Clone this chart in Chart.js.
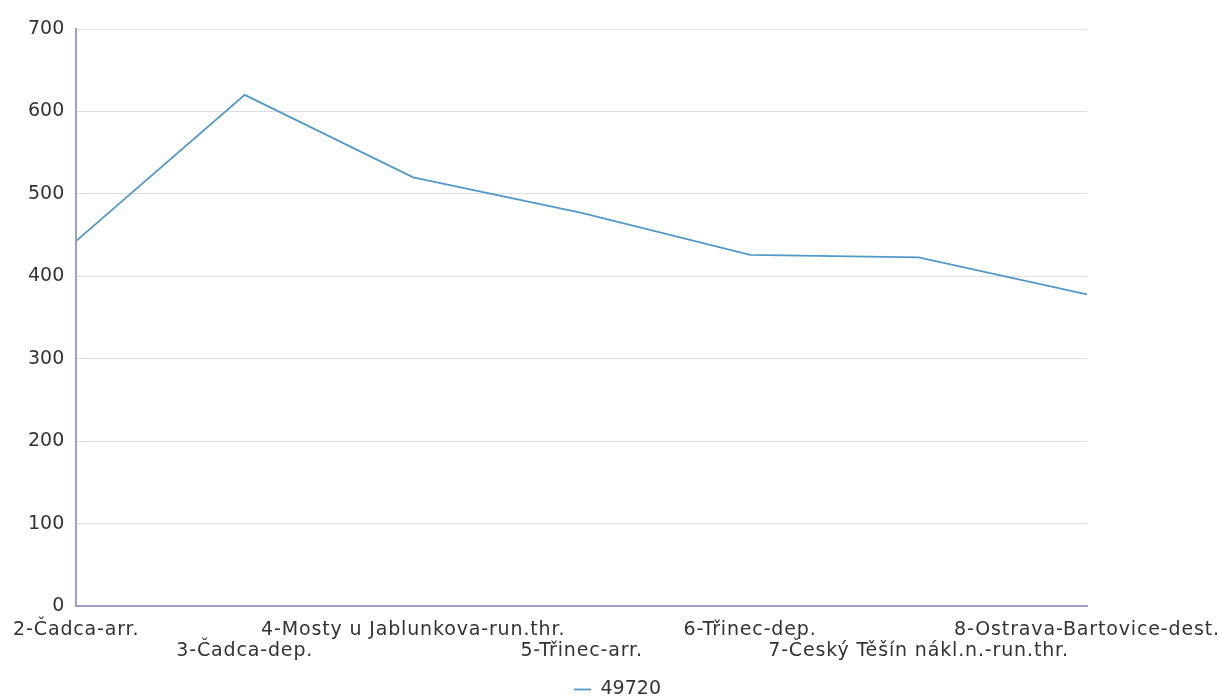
<!DOCTYPE html>
<html>
<head>
<meta charset="utf-8">
<script src="https://cdn.jsdelivr.net/npm/chart.js@4/dist/chart.umd.min.js"></script>
<style>
html,body{margin:0;padding:0;background:#fff;}
#wrap{width:1219px;height:697px;position:relative;}
</style>
</head>
<body>
<div id="wrap"><canvas id="c" width="1219" height="697"></canvas></div>
<script>
const categories = [
  "2-Čadca-arr.",
  "3-Čadca-dep.",
  "4-Mosty u Jablunkova-run.thr.",
  "5-Třinec-arr.",
  "6-Třinec-dep.",
  "7-Český Těšín nákl.n.-run.thr.",
  "8-Ostrava-Bartovice-dest."
];
const seriesName = "49720";
const seriesValues = [443, 620, 520, 477, 426, 423, 378];
const yTicks = [0, 100, 200, 300, 400, 500, 600, 700];

const labels = categories.map((c, i) => i % 2 === 0 ? [c, ""] : ["", c]);

Chart.defaults.font.family = "'DejaVu Sans', sans-serif";
Chart.defaults.font.size = 19;
Chart.defaults.color = "#333333";

function spacedLabels(scale) {
  if (scale._spaced) return;
  scale._spaced = true;
  const orig = scale.drawLabels.bind(scale);
  scale.drawLabels = function (ca) {
    const ctx = scale.ctx;
    const prev = ctx.letterSpacing;
    try { ctx.letterSpacing = "0.85px"; } catch (e) {}
    orig(ca);
    try { ctx.letterSpacing = prev || "0px"; } catch (e) {}
  };
}

new Chart(document.getElementById("c"), {
  type: "line",
  data: {
    labels: labels,
    datasets: [{
      label: seriesName,
      data: seriesValues,
      borderColor: "#5298c9",
      backgroundColor: "#5298c9",
      borderWidth: 1.8,
      pointRadius: 0,
      pointHoverRadius: 0,
      tension: 0,
      fill: false
    }]
  },
  options: {
    responsive: false,
    animation: false,
    layout: { padding: { left: 16, right: 0, top: 29, bottom: -12 } },
    plugins: {
      legend: {
        position: "bottom",
        labels: {
          usePointStyle: true,
          pointStyle: "line",
          pointStyleWidth: 17,
          boxWidth: 17,
          font: { size: 19, lineHeight: 1.0 },
          padding: 0
        }
      },
      tooltip: { enabled: false }
    },
    scales: {
      x: {
        offset: false,
        grid: { display: false, drawTicks: false },
        border: { display: true, color: "#9e9ec6", width: 2 },
        ticks: {
          autoSkip: false,
          maxRotation: 0,
          minRotation: 0,
          padding: 13.5,
          font: { size: 19, lineHeight: 1.1 }
        },
        afterFit: (scale) => { scale.height = 74; scale.paddingRight = 132; },
        afterUpdate: spacedLabels
      },
      y: {
        min: 0,
        max: 700,
        afterBuildTicks: (scale) => { scale.ticks = yTicks.map(v => ({ value: v })); },
        grid: { color: "#dcdde8", drawTicks: false, lineWidth: 1 },
        border: { display: true, color: "#9e9ec6", width: 2 },
        ticks: { padding: 12, font: { size: 19 } }
      }
    }
  }
});
</script>
</body>
</html>
